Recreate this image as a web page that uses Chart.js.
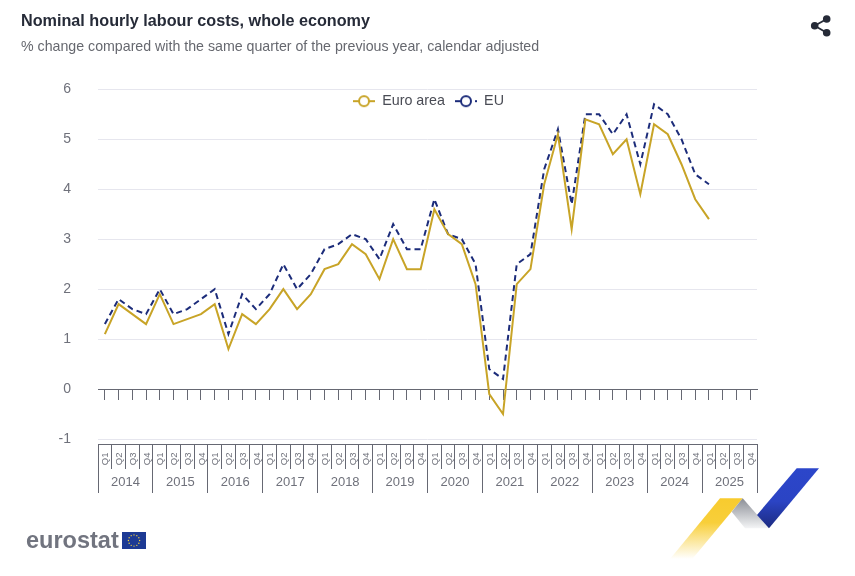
<!DOCTYPE html>
<html>
<head>
<meta charset="utf-8">
<style>
html,body{margin:0;padding:0;background:#fff;width:855px;height:576px;overflow:hidden}
#c{position:absolute;left:0;top:0}
#deco{position:absolute;left:0;top:0}
</style>
<script src="https://cdn.jsdelivr.net/npm/chart.js@4/dist/chart.umd.min.js"></script>
</head>
<body>
<canvas id="c" width="855" height="576"></canvas>
<svg id="deco" width="855" height="576" xmlns="http://www.w3.org/2000/svg">
  <defs>
    <linearGradient id="gy" x1="0" y1="0" x2="0" y2="1"><stop offset="0" stop-color="#f8cb2e"/><stop offset=".4" stop-color="#f8cf3a"/><stop offset="1" stop-color="#ffffff"/></linearGradient>
    <linearGradient id="gg" x1="0" y1="0" x2="0" y2="1"><stop offset="0" stop-color="#8b8e96"/><stop offset="1" stop-color="#f4f5f6"/></linearGradient>
    <linearGradient id="gb" x1="0" y1="0" x2="0" y2="1"><stop offset="0" stop-color="#2c46ca"/><stop offset=".55" stop-color="#2b44c4"/><stop offset="1" stop-color="#1c2b80"/></linearGradient>
  </defs>
  <g stroke="#262b38" stroke-width="1.8" fill="#262b38">
    <line x1="814.7" y1="25.7" x2="826.7" y2="19"/><line x1="814.7" y1="25.7" x2="826.7" y2="32.7"/>
    <circle cx="814.7" cy="25.7" r="2.9"/><circle cx="826.7" cy="19" r="2.9"/><circle cx="826.7" cy="32.7" r="2.9"/>
  </g>
  <text x="26" y="548" font-family="Liberation Sans" font-weight="700" font-size="23.5" fill="#71747f">eurostat</text>
  <rect x="122" y="532" width="24" height="17" fill="#1d3a94"/>
  <g id="stars" fill="#f5d33b"></g>
  <polygon points="720,498.3 742.7,498.3 692.3,559 670,559" fill="url(#gy)"/>
  <polygon points="742.7,498.3 769,528.3 745,528.3 731.7,511.7" fill="url(#gg)"/>
  <polygon points="796.7,468.3 819,468.3 769,528.3 757,515" fill="url(#gb)"/>
</svg>
<script>
const years = ["2014","2015","2016","2017","2018","2019","2020","2021","2022","2023","2024","2025"];
const quarters = ["Q1","Q2","Q3","Q4"];
const euroArea = [
  1.1,1.7,1.5,1.3, 1.9,1.3,1.4,1.5, 1.7,0.8,1.5,1.3, 1.6,2.0,1.6,1.9,
  2.4,2.5,2.9,2.7, 2.2,3.0,2.4,2.4, 3.6,3.1,2.9,2.1, -0.1,-0.5,2.1,2.4,
  4.1,5.1,3.2,5.4, 5.3,4.7,5.0,3.9, 5.3,5.1,4.5,3.8, 3.4,null,null,null
];
const eu = [
  1.3,1.8,1.6,1.5, 2.0,1.5,1.6,1.8, 2.0,1.1,1.9,1.6, 1.9,2.5,2.0,2.3,
  2.8,2.9,3.1,3.0, 2.6,3.3,2.8,2.8, 3.8,3.1,3.0,2.5, 0.4,0.2,2.5,2.7,
  4.4,5.2,3.7,5.5, 5.5,5.1,5.5,4.5, 5.7,5.5,5.0,4.3, 4.1,null,null,null
];
const quarterLabels = years.flatMap(() => quarters);
const categoryKeys = years.flatMap(y => quarters.map(q => y + " " + q));

const GOLD = "#c8a427", NAVY = "#1c2c7a", AXIS = "#666873", GRID = "#e6e6ee", TXT = "#6f717b";
const FONT = "'Liberation Sans', Arial, sans-serif";

function legendIcon(color, dash) {
  const c = document.createElement("canvas");
  c.width = 22; c.height = 14;
  const g = c.getContext("2d");
  g.strokeStyle = color; g.lineWidth = 2;
  g.setLineDash(dash);
  g.beginPath(); g.moveTo(0, 7); g.lineTo(22, 7); g.stroke();
  g.setLineDash([]);
  g.fillStyle = "#fff";
  g.beginPath(); g.arc(11, 7, 5, 0, Math.PI * 2); g.fill(); g.stroke();
  return c;
}
const icons = [legendIcon(GOLD, []), legendIcon(NAVY, [6, 4])];

const moveLegend = {
  id: "moveLegend",
  afterLayout(chart) {
    const l = chart.legend;
    l.top = 84;
    l.bottom = 84 + l.height;
    l.left += 39.5;
    l.right += 39.5;
  }
};

new Chart(document.getElementById("c"), {
  type: "line",
  plugins: [moveLegend],
  data: {
    labels: categoryKeys,
    datasets: [
      { label: "Euro area", data: euroArea, borderColor: GOLD, borderWidth: 2, pointRadius: 0, tension: 0, spanGaps: false, xAxisID: "x", yAxisID: "y" },
      { label: "EU", data: eu, borderColor: NAVY, borderWidth: 2, borderDash: [6, 4], pointRadius: 0, tension: 0, spanGaps: false, xAxisID: "x", yAxisID: "y" }
    ]
  },
  options: {
    responsive: false,
    animation: false,
    devicePixelRatio: 1,
    events: [],
    layout: { padding: { left: 21, right: 98, top: 0, bottom: 83 } },
    plugins: {
      tooltip: { enabled: false },
      title: {
        display: true, align: "start", text: "Nominal hourly labour costs, whole economy",
        color: "#262b38", font: { family: FONT, size: 16.2, weight: "bold", lineHeight: 1.2 },
        padding: { top: 12, bottom: 5 }
      },
      subtitle: {
        display: true, align: "start", text: "% change compared with the same quarter of the previous year, calendar adjusted",
        color: "#66686f", font: { family: FONT, size: 14.2, weight: "normal", lineHeight: 1.2 },
        padding: { top: 2.4, bottom: -0.88 }
      },
      legend: {
        display: true, position: "top", align: "center",
        labels: {
          usePointStyle: true, pointStyleWidth: 22, padding: 10, color: "#4a4c55",
          font: { family: FONT, size: 14.3 },
          generateLabels: (chart) => chart.data.datasets.map((d, i) => ({
            text: d.label, pointStyle: icons[i], datasetIndex: i, hidden: false,
            fontColor: "#4a4c55", lineWidth: 0, strokeStyle: "transparent", fillStyle: "transparent"
          }))
        }
      }
    },
    scales: {
      y: {
        min: -1.1, max: 6,
        afterFit(s) { s.width = 77; },
        ticks: { stepSize: 1, includeBounds: false, padding: 27, color: TXT, font: { family: FONT, size: 14 } },
        grid: { color: GRID, lineWidth: 1, drawTicks: false },
        border: { display: false }
      },
      x: {
        type: "category", offset: true, position: { y: 0 },
        ticks: { display: false, autoSkip: false },
        grid: { drawOnChartArea: false, drawTicks: true, tickLength: 10, color: AXIS, offset: false },
        border: { display: true, color: AXIS, width: 1 }
      },
      xq: {
        type: "category", offset: true, position: "bottom", axis: "x",
        labels: quarterLabels,
        afterFit(s) { s.height = 25; },
        ticks: { autoSkip: false, minRotation: 90, maxRotation: 90, padding: -16.5, labelOffset: 1, color: TXT, font: { family: FONT, size: 9.5 } },
        grid: { drawOnChartArea: false, tickLength: 25, color: AXIS, offset: true },
        border: { display: true, color: AXIS, width: 1 }
      },
      xy: {
        type: "category", offset: true, position: "bottom", axis: "x",
        labels: years,
        afterFit(s) { s.height = 24; },
        ticks: { autoSkip: false, maxRotation: 0, minRotation: 0, padding: -18, color: TXT, font: { family: FONT, size: 13 } },
        grid: { drawOnChartArea: false, tickLength: 24, color: AXIS, offset: true },
        border: { display: false }
      }
    }
  }
});

const starGroup = document.getElementById("stars");
for (let i = 0; i < 12; i++) {
  const a = i * Math.PI / 6;
  const s = document.createElementNS("http://www.w3.org/2000/svg", "circle");
  s.setAttribute("cx", 134 + 5.6 * Math.cos(a));
  s.setAttribute("cy", 540.5 + 5.6 * Math.sin(a));
  s.setAttribute("r", 0.7);
  starGroup.appendChild(s);
}
</script>
</body>
</html>
